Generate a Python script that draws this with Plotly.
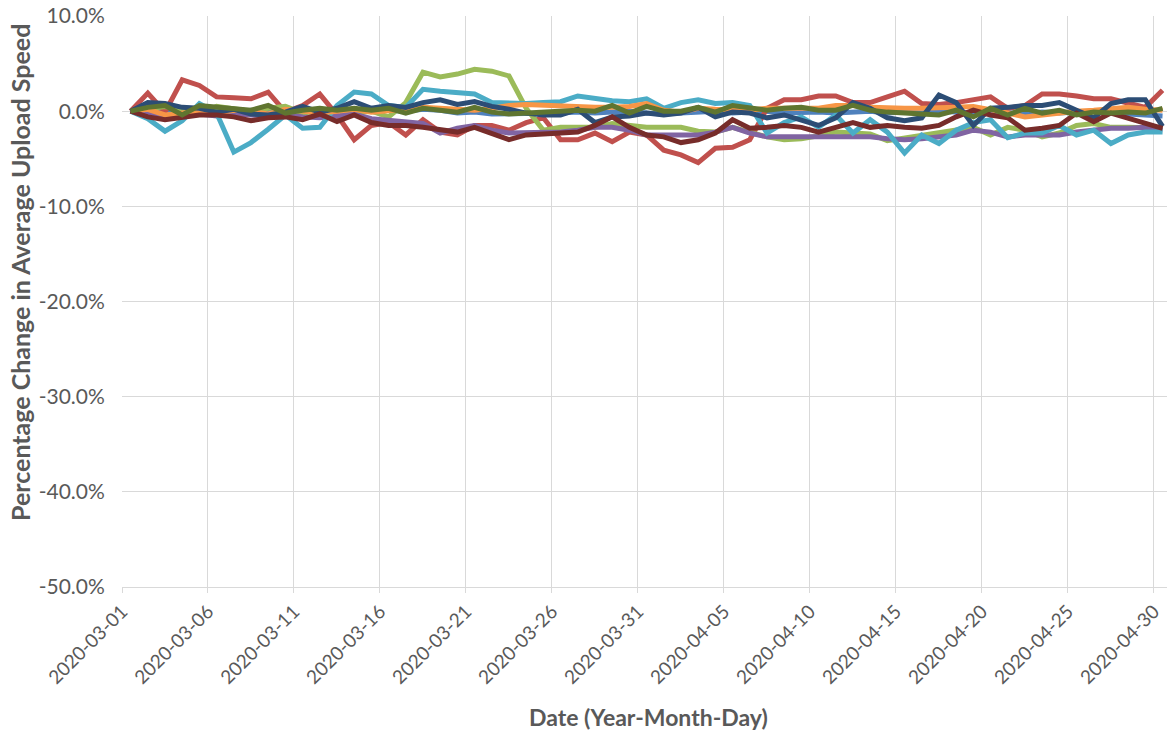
import pandas as pd
import plotly.graph_objects as go

# Daily percentage change in average upload speed (in %), 2020-03-01 .. 2020-04-30
dates = pd.date_range("2020-03-01", "2020-04-30", freq="D")

blue = [0, 0.3, 0.2, -0.2, 0.1, 0.0, -0.2, 0.1, -0.1, 0.0, 0.2, -0.1, 0.1, 0.0, 0.3, 0.1,
        0.0, 0.2, 0.1, -0.2, -0.1, -0.3, -0.3, -0.2, -0.3, -0.2, -0.1, -0.2, -0.1, 0.0, -0.2,
        -0.3, -0.2, -0.1, 0.0, -0.2, -0.1, 0.0, -0.2, -0.1, -0.1, -0.2, -0.1, 0.0, -0.2, -0.1,
        -0.2, 0.0, -0.1, -0.2, 0.0, -0.2, -0.3, -0.1, -0.2, -0.1, 0.0, -0.2, -0.3, -0.4, -0.5]
red = [0, 1.9, -0.1, 3.3, 2.7, 1.5, 1.4, 1.3, 2.0, -0.1, 0.6, 1.8, -0.4, -3.0, -1.5, -1.2,
       -2.5, -0.9, -2.2, -2.5, -1.5, -1.5, -2.0, -1.2, -0.7, -3.0, -3.0, -2.3, -3.2, -2.2, -2.5,
       -4.1, -4.6, -5.4, -3.9, -3.8, -3.0, 0.3, 1.2, 1.2, 1.6, 1.6, 0.9, 0.9, 1.5, 2.1,
       0.8, 0.7, 0.9, 1.2, 1.5, 0.3, 0.6, 1.8, 1.8, 1.6, 1.3, 1.3, 0.8, 0.4, 2.2]
green = [0, 0.3, 0.5, 0.2, -0.3, 0.5, 0.3, 0.0, 0.3, 0.5, -0.2, 0.0, 0.2, -0.2, 0.0, -0.6,
         0.9, 4.1, 3.6, 3.9, 4.4, 4.2, 3.7, 0.3, -2.0, -1.7, -1.7, -1.7, -1.3, -1.5, -1.7,
         -1.7, -1.7, -2.1, -2.2, -1.7, -2.2, -2.7, -3.0, -2.9, -2.6, -2.2, -2.3, -2.4, -3.1, -2.8,
         -2.5, -2.2, -2.0, -1.7, -2.5, -1.7, -2.0, -2.7, -2.3, -1.5, -1.3, -1.7, -1.7, -1.7, -1.8]
purple = [0, -0.3, -0.8, -0.5, -0.3, -0.5, -0.3, -0.4, -0.5, -0.3, -0.6, -0.7, -0.5, -0.3, -0.8,
          -1.0, -1.2, -1.3, -2.3, -1.8, -1.5, -2.0, -2.3, -2.3, -2.2, -2.2, -2.0, -1.7, -1.7, -2.0,
          -2.5, -2.5, -2.5, -2.5, -2.2, -1.7, -2.3, -2.7, -2.7, -2.7, -2.7, -2.7, -2.7, -2.7, -2.9,
          -3.0, -2.9, -2.7, -2.5, -2.0, -2.2, -2.7, -2.5, -2.5, -2.5, -2.2, -2.0, -1.8, -1.8, -1.7, -2.0]
cyan = [0, -0.8, -2.1, -1.0, 0.8, -0.2, -4.3, -3.3, -1.9, -0.4, -1.8, -1.7, 0.6, 2.0, 1.8, 0.6,
        0.4, 2.3, 2.1, 1.9, 1.8, 0.9, 0.8, 0.8, 0.9, 1.0, 1.6, 1.3, 1.1, 1.0, 1.3,
        0.3, 0.9, 1.2, 0.8, 0.9, 0.6, -2.3, -1.2, -0.6, -1.7, -0.4, -2.3, -0.9, -2.2, -4.4,
        -2.5, -3.4, -2.0, -1.2, -0.9, -2.8, -2.3, -2.3, -1.5, -2.5, -2.0, -3.4, -2.5, -2.2, -2.2]
orange = [0, 0.2, -0.4, -0.2, 0.0, -0.2, 0.1, 0.0, -0.3, 0.2, 0.0, -0.2, 0.0, 0.2, -0.1, 0.0,
          0.2, 0.4, 0.3, 0.2, 0.1, 0.3, 0.6, 0.7, 0.6, 0.5, 0.5, 0.4, 0.4, 0.5, 0.8,
          0.1, -0.1, 0.3, 0.2, 0.1, 0.1, 0.3, 0.3, 0.2, 0.3, 0.6, 0.6, 0.4, 0.3, 0.3,
          0.3, 0.3, 0.4, 0.5, 0.2, -0.2, -0.6, -0.4, -0.1, 0.0, 0.1, 0.3, 0.4, 0.2, 0.1]
dark_blue = [0, 0.9, 0.8, 0.4, 0.3, -0.1, 0.2, -0.3, -0.4, -0.1, 0.5, -0.1, 0.3, 1.0, 0.3, 0.6,
             0.4, 0.9, 1.2, 0.7, 1.0, 0.5, 0.2, -0.2, -0.4, -0.4, 0.2, -1.2, -0.6, -0.5, -0.2,
             -0.4, -0.2, 0.4, -0.6, -0.1, -0.2, -0.7, -0.4, -1.0, -1.5, -0.7, 0.9, 0.3, -0.7, -1.0,
             -0.7, 1.7, 0.9, -1.5, 0.3, 0.4, 0.6, 0.6, 0.9, 0.1, -0.7, 0.8, 1.2, 1.2, -1.6]
dark_red = [0, -0.6, -0.9, -0.7, -0.4, -0.4, -0.6, -1.0, -0.7, -0.6, -0.9, -0.3, -1.1, -0.4, -1.2,
            -1.5, -1.5, -1.7, -2.0, -2.2, -1.7, -2.3, -3.0, -2.5, -2.4, -2.3, -2.2, -1.5, -0.6, -1.7,
            -2.5, -2.7, -3.3, -3.0, -2.3, -0.9, -1.8, -1.7, -1.5, -1.7, -2.2, -1.7, -1.2, -1.7, -1.5,
            -1.7, -1.8, -1.5, -0.6, 0.1, -0.4, -0.7, -2.0, -1.8, -1.5, -0.2, -1.1, -0.2, -0.7, -1.3, -1.8]
olive = [0, 0.4, 0.6, -0.4, 0.6, 0.4, 0.3, 0.1, 0.6, -0.2, 0.1, 0.3, 0.1, 0.3, 0.1, 0.3,
         -0.2, 0.3, 0.1, -0.1, 0.4, -0.1, -0.3, -0.2, -0.1, 0.0, 0.1, 0.0, 0.6, -0.2, 0.5,
         0.0, 0.0, 0.4, -0.1, 0.6, 0.3, 0.1, 0.3, 0.4, 0.1, 0.1, 0.6, 0.1, -0.1, -0.2,
         -0.2, -0.4, 0.1, -0.6, 0.3, -0.4, 0.3, -0.2, 0.1, -0.4, -0.1, -0.2, -0.1, -0.2, 0.3]

series = [
    (blue, "#4F81BD"),
    (red, "#C0504D"),
    (green, "#9BBB59"),
    (purple, "#8064A2"),
    (cyan, "#4BACC6"),
    (orange, "#F79646"),
    (dark_blue, "#2C4D75"),
    (dark_red, "#772C2A"),
    (olive, "#5F7530"),
]

y_ticks = [10, 0, -10, -20, -30, -40, -50]
y_tick_text = ["10.0%", "0.0%", "-10.0%", "-20.0%", "-30.0%", "-40.0%", "-50.0%"]

# each point sits in the middle of its day; gridlines mark day boundaries
x_mid = dates + pd.Timedelta(hours=12)
x_ticks = pd.date_range("2020-03-01", "2020-04-30", freq="5D")

fig = go.Figure()
for values, color in series:
    fig.add_trace(go.Scatter(
        x=x_mid, y=values, mode="lines",
        line=dict(color=color, width=5),
        showlegend=False, hoverinfo="skip",
    ))

font_family = "Lato, Calibri, sans-serif"
gray = "#595959"
grid = "#D9D9D9"

fig.update_layout(
    width=1167, height=731,
    margin=dict(l=122, r=0, t=16, b=144),
    paper_bgcolor="white", plot_bgcolor="white",
    font=dict(family=font_family, color=gray, size=21),
)
fig.update_xaxes(
    range=[pd.Timestamp("2020-03-01"), pd.Timestamp("2020-03-01") + pd.Timedelta(days=60.76)],
    tickvals=x_ticks, tickformat="%Y-%m-%d", tickangle=-45,
    showgrid=True, gridcolor=grid, gridwidth=1,
    showline=True, linecolor=grid, linewidth=1,
    ticks="outside", ticklen=5, tickcolor=grid,
    tickfont=dict(size=19, color=gray),
    zeroline=False, automargin=False,
)
fig.update_yaxes(
    range=[-50, 10], tickvals=y_ticks, ticktext=y_tick_text,
    showgrid=True, gridcolor=grid, gridwidth=1,
    showline=False, zeroline=False,
    ticks="outside", ticklen=12, tickcolor="rgba(0,0,0,0)",
    tickfont=dict(size=21, color=gray),
    automargin=False,
)

# axis titles
fig.add_annotation(
    text="<b>Percentage Change in Average Upload Speed</b>",
    xref="paper", yref="paper", x=(20 - 122) / 1045, y=(587 - 273) / 571,
    xanchor="center", yanchor="middle", textangle=-90, showarrow=False,
    font=dict(size=25, color=gray, family=font_family),
)
fig.add_annotation(
    text="<b>Date (Year-Month-Day)</b>",
    xref="paper", yref="paper", x=(648 - 122) / 1045, y=(587 - 717) / 571,
    xanchor="center", yanchor="middle", showarrow=False,
    font=dict(size=23, color=gray, family=font_family),
)

fig.write_html("out.html")
